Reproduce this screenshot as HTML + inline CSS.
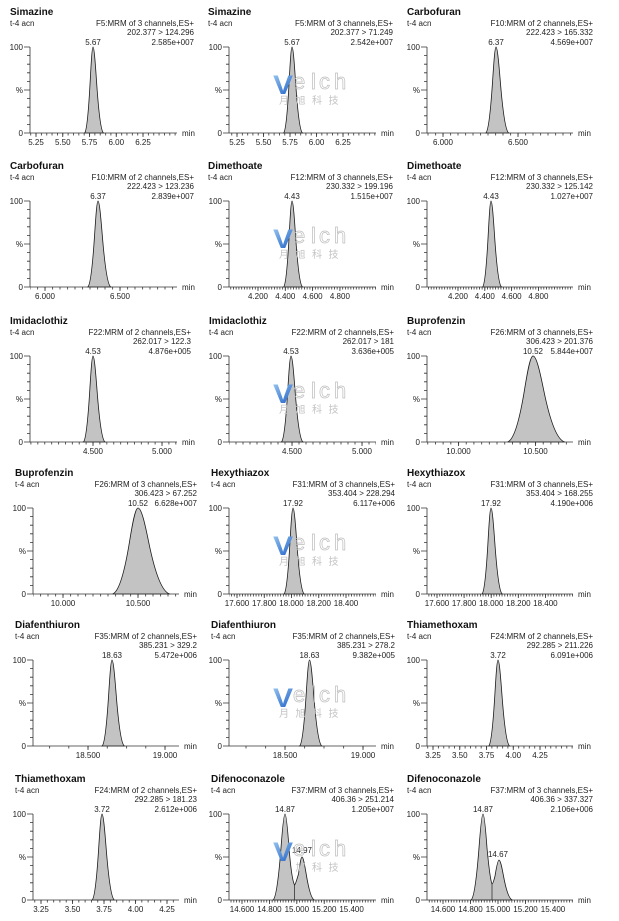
<!DOCTYPE html>
<html><head><meta charset="utf-8">
<style>
html,body{margin:0;padding:0;background:#fff;}
svg{display:block;}
.t{font-family:"Liberation Sans",sans-serif;font-weight:bold;font-size:10px;fill:#111;}
.s{font-family:"Liberation Sans",sans-serif;font-size:8px;fill:#222;}
.e{text-anchor:end;}
.m{text-anchor:middle;}
.ax{stroke:#333;stroke-width:0.8;fill:none;}
.pkf{fill:#c3c3c3;stroke:#1a1a1a;stroke-width:0.8;}
.wv{font-family:"Liberation Sans",sans-serif;font-weight:bold;font-size:27px;fill:url(#wg);}
.we{font-family:"Liberation Sans",sans-serif;font-size:22px;fill:none;stroke:#bdbdbd;stroke-width:0.7;}
.wc{font-family:"Liberation Sans","Noto Sans CJK SC",sans-serif;font-size:10px;fill:#c4c4c4;letter-spacing:6.5px;}
</style></head>
<body>
<svg width="619" height="921" viewBox="0 0 619 921" xmlns="http://www.w3.org/2000/svg">
<defs>
<linearGradient id="wg" x1="0" y1="0" x2="0.6" y2="1">
<stop offset="0" stop-color="#a5d0f5"/><stop offset="1" stop-color="#2466c8"/>
</linearGradient>
<path id="pk" class="pkf" vector-effect="non-scaling-stroke" d="M-3,0 C-2.333,-1.7 -1.667,-17.4 -1,-52.2 C-0.667,-69.6 -0.333,-86 0,-86 C0.417,-86 0.833,-69.6 1.25,-52.2 C2.083,-17.4 2.917,-1.7 3.75,0 Z"/>
<g id="yax"><path class="ax" d="M0,0V-86 M-6,0H0 M-6,-43H0 M-6,-86H0 M-3,-8.6H0 M-3,-17.2H0 M-3,-25.8H0 M-3,-34.4H0 M-3,-51.6H0 M-3,-60.2H0 M-3,-68.8H0 M-3,-77.4H0"/></g>
<pattern id="p11" patternUnits="userSpaceOnUse" x="35.6" y="0" width="5.35" height="4"><rect width="0.8" height="4" fill="#333"/></pattern>
<pattern id="p12" patternUnits="userSpaceOnUse" x="236.6" y="0" width="5.3" height="4"><rect width="0.8" height="4" fill="#333"/></pattern>
<pattern id="p13" patternUnits="userSpaceOnUse" x="442.6" y="0" width="7.5" height="4"><rect width="0.8" height="4" fill="#333"/></pattern>
<pattern id="p21" patternUnits="userSpaceOnUse" x="44.6" y="0" width="7.5" height="4"><rect width="0.8" height="4" fill="#333"/></pattern>
<pattern id="p22" patternUnits="userSpaceOnUse" x="257.6" y="0" width="2.73" height="4"><rect width="0.8" height="4" fill="#333"/></pattern>
<pattern id="p23" patternUnits="userSpaceOnUse" x="457.6" y="0" width="2.68" height="4"><rect width="0.8" height="4" fill="#333"/></pattern>
<pattern id="p31" patternUnits="userSpaceOnUse" x="92.6" y="0" width="6.9" height="4"><rect width="0.8" height="4" fill="#333"/></pattern>
<pattern id="p32" patternUnits="userSpaceOnUse" x="291.6" y="0" width="7" height="4"><rect width="0.8" height="4" fill="#333"/></pattern>
<pattern id="p33" patternUnits="userSpaceOnUse" x="458.1" y="0" width="7.7" height="4"><rect width="0.8" height="4" fill="#333"/></pattern>
<pattern id="p41" patternUnits="userSpaceOnUse" x="62.6" y="0" width="7.5" height="4"><rect width="0.8" height="4" fill="#333"/></pattern>
<pattern id="p42" patternUnits="userSpaceOnUse" x="236.6" y="0" width="2.725" height="4"><rect width="0.8" height="4" fill="#333"/></pattern>
<pattern id="p43" patternUnits="userSpaceOnUse" x="436.6" y="0" width="2.71" height="4"><rect width="0.8" height="4" fill="#333"/></pattern>
<pattern id="p51" patternUnits="userSpaceOnUse" x="87.6" y="0" width="19.25" height="4"><rect width="0.8" height="4" fill="#333"/></pattern>
<pattern id="p52" patternUnits="userSpaceOnUse" x="284.6" y="0" width="19.5" height="4"><rect width="0.8" height="4" fill="#333"/></pattern>
<pattern id="p53" patternUnits="userSpaceOnUse" x="432.6" y="0" width="5.35" height="4"><rect width="0.8" height="4" fill="#333"/></pattern>
<pattern id="p61" patternUnits="userSpaceOnUse" x="40.6" y="0" width="6.3" height="4"><rect width="0.8" height="4" fill="#333"/></pattern>
<pattern id="p62" patternUnits="userSpaceOnUse" x="241.6" y="0" width="2.74" height="4"><rect width="0.8" height="4" fill="#333"/></pattern>
<pattern id="p63" patternUnits="userSpaceOnUse" x="442.6" y="0" width="2.75" height="4"><rect width="0.8" height="4" fill="#333"/></pattern>
</defs>
<rect width="619" height="921" fill="#fff"/>

<!-- ================= ROW 1 (B=133) ================= -->
<!-- R1C1 -->
<text class="t" x="10" y="15">Simazine</text>
<text class="s" x="10" y="26">t-4 acn</text>
<text class="s e" x="194" y="26">F5:MRM of 3 channels,ES+</text>
<text class="s e" x="194" y="35">202.377 &gt; 124.296</text>
<text class="s e" x="194" y="45">2.585e+007</text>
<text class="s m" x="93" y="45">5.67</text>
<text class="s e" x="23" y="50">100</text><text class="s e" x="23" y="93">%</text><text class="s e" x="23" y="136">0</text>
<use href="#yax" x="30" y="133"/>
<use href="#pk" transform="translate(93,133) scale(2.8,1)"/>
<path class="ax" d="M30,133H177"/>
<rect x="30" y="133" width="147" height="2.5" fill="url(#p11)"/>
<path class="ax" d="M36,133v4M62.75,133v4M89.5,133v4M116.25,133v4M143,133v4"/>
<text class="s m" x="36" y="145">5.25</text><text class="s m" x="62.75" y="145">5.50</text><text class="s m" x="89.5" y="145">5.75</text><text class="s m" x="116.25" y="145">6.00</text><text class="s m" x="143" y="145">6.25</text>
<text class="s" x="182" y="136">min</text>

<!-- R1C2 -->
<text class="t" x="208" y="15">Simazine</text>
<text class="s" x="208" y="26">t-4 acn</text>
<text class="s e" x="393" y="26">F5:MRM of 3 channels,ES+</text>
<text class="s e" x="393" y="35">202.377 &gt; 71.249</text>
<text class="s e" x="393" y="45">2.542e+007</text>
<text class="s m" x="292" y="45">5.67</text>
<text class="s e" x="222" y="50">100</text><text class="s e" x="222" y="93">%</text><text class="s e" x="222" y="136">0</text>
<use href="#yax" x="229" y="133"/>
<use href="#pk" transform="translate(292,133) scale(2.8,1)"/>
<path class="ax" d="M229,133H376"/>
<rect x="229" y="133" width="147" height="2.5" fill="url(#p12)"/>
<path class="ax" d="M237,133v4M263.5,133v4M290,133v4M316.5,133v4M343,133v4"/>
<text class="s m" x="237" y="145">5.25</text><text class="s m" x="263.5" y="145">5.50</text><text class="s m" x="290" y="145">5.75</text><text class="s m" x="316.5" y="145">6.00</text><text class="s m" x="343" y="145">6.25</text>
<text class="s" x="381" y="136">min</text>
<text class="wv" x="273" y="94" textLength="20" lengthAdjust="spacingAndGlyphs">V</text>
<text class="we" y="89"><tspan x="293">e</tspan><tspan x="311">l</tspan><tspan x="319">c</tspan><tspan x="334">h</tspan></text>
<text class="wc" x="279" y="104">月旭科技</text>

<!-- R1C3 -->
<text class="t" x="407" y="15">Carbofuran</text>
<text class="s" x="407" y="26">t-4 acn</text>
<text class="s e" x="593" y="26">F10:MRM of 2 channels,ES+</text>
<text class="s e" x="593" y="35">222.423 &gt; 165.332</text>
<text class="s e" x="593" y="45">4.569e+007</text>
<text class="s m" x="496" y="45">6.37</text>
<text class="s e" x="420" y="50">100</text><text class="s e" x="420" y="93">%</text><text class="s e" x="420" y="136">0</text>
<use href="#yax" x="427" y="133"/>
<use href="#pk" transform="translate(496,133) scale(3.4,1)"/>
<path class="ax" d="M427,133H573"/>
<rect x="427" y="133" width="146" height="2.5" fill="url(#p13)"/>
<path class="ax" d="M443,133v4M518,133v4"/>
<text class="s m" x="443" y="145">6.000</text><text class="s m" x="518" y="145">6.500</text>
<text class="s" x="578" y="136">min</text>

<!-- ================= ROW 2 (B=287) ================= -->
<!-- R2C1 -->
<text class="t" x="10" y="169">Carbofuran</text>
<text class="s" x="10" y="180">t-4 acn</text>
<text class="s e" x="194" y="180">F10:MRM of 2 channels,ES+</text>
<text class="s e" x="194" y="189">222.423 &gt; 123.236</text>
<text class="s e" x="194" y="199">2.839e+007</text>
<text class="s m" x="98" y="199">6.37</text>
<text class="s e" x="23" y="204">100</text><text class="s e" x="23" y="247">%</text><text class="s e" x="23" y="290">0</text>
<use href="#yax" x="30" y="287"/>
<use href="#pk" transform="translate(98,287) scale(3.4,1)"/>
<path class="ax" d="M30,287H177"/>
<rect x="30" y="287" width="147" height="2.5" fill="url(#p21)"/>
<path class="ax" d="M45,287v4M120,287v4"/>
<text class="s m" x="45" y="299">6.000</text><text class="s m" x="120" y="299">6.500</text>
<text class="s" x="182" y="290">min</text>

<!-- R2C2 -->
<text class="t" x="208" y="169">Dimethoate</text>
<text class="s" x="208" y="180">t-4 acn</text>
<text class="s e" x="393" y="180">F12:MRM of 3 channels,ES+</text>
<text class="s e" x="393" y="189">230.332 &gt; 199.196</text>
<text class="s e" x="393" y="199">1.515e+007</text>
<text class="s m" x="292" y="199">4.43</text>
<text class="s e" x="222" y="204">100</text><text class="s e" x="222" y="247">%</text><text class="s e" x="222" y="290">0</text>
<use href="#yax" x="229" y="287"/>
<use href="#pk" transform="translate(292,287) scale(2.8,1)"/>
<path class="ax" d="M229,287H376"/>
<rect x="229" y="287" width="147" height="2.5" fill="url(#p22)"/>
<path class="ax" d="M258,287v4M285.3,287v4M312.6,287v4M339.9,287v4"/>
<text class="s m" x="258" y="299">4.200</text><text class="s m" x="285.3" y="299">4.400</text><text class="s m" x="312.6" y="299">4.600</text><text class="s m" x="339.9" y="299">4.800</text>
<text class="s" x="381" y="290">min</text>
<text class="wv" x="273" y="248" textLength="20" lengthAdjust="spacingAndGlyphs">V</text>
<text class="we" y="243"><tspan x="293">e</tspan><tspan x="311">l</tspan><tspan x="319">c</tspan><tspan x="334">h</tspan></text>
<text class="wc" x="279" y="258">月旭科技</text>

<!-- R2C3 -->
<text class="t" x="407" y="169">Dimethoate</text>
<text class="s" x="407" y="180">t-4 acn</text>
<text class="s e" x="593" y="180">F12:MRM of 3 channels,ES+</text>
<text class="s e" x="593" y="189">230.332 &gt; 125.142</text>
<text class="s e" x="593" y="199">1.027e+007</text>
<text class="s m" x="491" y="199">4.43</text>
<text class="s e" x="420" y="204">100</text><text class="s e" x="420" y="247">%</text><text class="s e" x="420" y="290">0</text>
<use href="#yax" x="427" y="287"/>
<use href="#pk" transform="translate(491,287) scale(2.8,1)"/>
<path class="ax" d="M427,287H573"/>
<rect x="427" y="287" width="146" height="2.5" fill="url(#p23)"/>
<path class="ax" d="M458,287v4M484.8,287v4M511.6,287v4M538.4,287v4"/>
<text class="s m" x="458" y="299">4.200</text><text class="s m" x="484.8" y="299">4.400</text><text class="s m" x="511.6" y="299">4.600</text><text class="s m" x="538.4" y="299">4.800</text>
<text class="s" x="578" y="290">min</text>

<!-- ================= ROW 3 (B=442) ================= -->
<!-- R3C1 -->
<text class="t" x="10" y="324">Imidaclothiz</text>
<text class="s" x="10" y="335">t-4 acn</text>
<text class="s e" x="191" y="335">F22:MRM of 2 channels,ES+</text>
<text class="s e" x="191" y="344">262.017 &gt; 122.3</text>
<text class="s e" x="191" y="354">4.876e+005</text>
<text class="s m" x="93" y="354">4.53</text>
<text class="s e" x="23" y="359">100</text><text class="s e" x="23" y="402">%</text><text class="s e" x="23" y="445">0</text>
<use href="#yax" x="30" y="442"/>
<use href="#pk" transform="translate(93,442) scale(3.2,1)"/>
<path class="ax" d="M30,442H177"/>
<rect x="30" y="442" width="147" height="2.5" fill="url(#p31)"/>
<path class="ax" d="M93,442v4M162,442v4"/>
<text class="s m" x="93" y="454">4.500</text><text class="s m" x="162" y="454">5.000</text>
<text class="s" x="182" y="445">min</text>

<!-- R3C2 -->
<text class="t" x="209" y="324">Imidaclothiz</text>
<text class="s" x="209" y="335">t-4 acn</text>
<text class="s e" x="394" y="335">F22:MRM of 2 channels,ES+</text>
<text class="s e" x="394" y="344">262.017 &gt; 181</text>
<text class="s e" x="394" y="354">3.636e+005</text>
<text class="s m" x="291" y="354">4.53</text>
<text class="s e" x="222" y="359">100</text><text class="s e" x="222" y="402">%</text><text class="s e" x="222" y="445">0</text>
<use href="#yax" x="229" y="442"/>
<use href="#pk" transform="translate(291,442) scale(3.2,1)"/>
<path class="ax" d="M229,442H376"/>
<rect x="229" y="442" width="147" height="2.5" fill="url(#p32)"/>
<path class="ax" d="M292,442v4M362,442v4"/>
<text class="s m" x="292" y="454">4.500</text><text class="s m" x="362" y="454">5.000</text>
<text class="s" x="381" y="445">min</text>
<text class="wv" x="273" y="403" textLength="20" lengthAdjust="spacingAndGlyphs">V</text>
<text class="we" y="398"><tspan x="293">e</tspan><tspan x="311">l</tspan><tspan x="319">c</tspan><tspan x="334">h</tspan></text>
<text class="wc" x="279" y="413">月旭科技</text>

<!-- R3C3 -->
<text class="t" x="407" y="324">Buprofenzin</text>
<text class="s" x="407" y="335">t-4 acn</text>
<text class="s e" x="593" y="335">F26:MRM of 3 channels,ES+</text>
<text class="s e" x="593" y="344">306.423 &gt; 201.376</text>
<text class="s e" x="593" y="354">5.844e+007</text>
<text class="s m" x="533" y="354">10.52</text>
<text class="s e" x="420" y="359">100</text><text class="s e" x="420" y="402">%</text><text class="s e" x="420" y="445">0</text>
<use href="#yax" x="427" y="442"/>
<use href="#pk" transform="translate(533,442) scale(8.5,1)"/>
<path class="ax" d="M427,442H573"/>
<rect x="427" y="442" width="146" height="2.5" fill="url(#p33)"/>
<path class="ax" d="M458.5,442v4M535.5,442v4"/>
<text class="s m" x="458.5" y="454">10.000</text><text class="s m" x="535.5" y="454">10.500</text>
<text class="s" x="578" y="445">min</text>

<!-- ================= ROW 4 (B=594) ================= -->
<!-- R4C1 -->
<text class="t" x="15" y="476">Buprofenzin</text>
<text class="s" x="15" y="487">t-4 acn</text>
<text class="s e" x="197" y="487">F26:MRM of 3 channels,ES+</text>
<text class="s e" x="197" y="496">306.423 &gt; 67.252</text>
<text class="s e" x="197" y="506">6.628e+007</text>
<text class="s m" x="138" y="506">10.52</text>
<text class="s e" x="26" y="511">100</text><text class="s e" x="26" y="554">%</text><text class="s e" x="26" y="597">0</text>
<use href="#yax" x="33" y="594"/>
<use href="#pk" transform="translate(138,594) scale(8.5,1)"/>
<path class="ax" d="M33,594H179"/>
<rect x="33" y="594" width="146" height="2.5" fill="url(#p41)"/>
<path class="ax" d="M63,594v4M138,594v4"/>
<text class="s m" x="63" y="606">10.000</text><text class="s m" x="138" y="606">10.500</text>
<text class="s" x="184" y="597">min</text>

<!-- R4C2 -->
<text class="t" x="211" y="476">Hexythiazox</text>
<text class="s" x="211" y="487">t-4 acn</text>
<text class="s e" x="395" y="487">F31:MRM of 3 channels,ES+</text>
<text class="s e" x="395" y="496">353.404 &gt; 228.294</text>
<text class="s e" x="395" y="506">6.117e+006</text>
<text class="s m" x="293" y="506">17.92</text>
<text class="s e" x="222" y="511">100</text><text class="s e" x="222" y="554">%</text><text class="s e" x="222" y="597">0</text>
<use href="#yax" x="229" y="594"/>
<use href="#pk" transform="translate(293,594) scale(3.0,1)"/>
<path class="ax" d="M229,594H376"/>
<rect x="229" y="594" width="147" height="2.5" fill="url(#p42)"/>
<path class="ax" d="M237,594v4M264.25,594v4M291.5,594v4M318.75,594v4M346,594v4"/>
<text class="s m" x="237" y="606">17.600</text><text class="s m" x="264.25" y="606">17.800</text><text class="s m" x="291.5" y="606">18.000</text><text class="s m" x="318.75" y="606">18.200</text><text class="s m" x="346" y="606">18.400</text>
<text class="s" x="381" y="597">min</text>
<text class="wv" x="273" y="555" textLength="20" lengthAdjust="spacingAndGlyphs">V</text>
<text class="we" y="550"><tspan x="293">e</tspan><tspan x="311">l</tspan><tspan x="319">c</tspan><tspan x="334">h</tspan></text>
<text class="wc" x="279" y="565">月旭科技</text>

<!-- R4C3 -->
<text class="t" x="407" y="476">Hexythiazox</text>
<text class="s" x="407" y="487">t-4 acn</text>
<text class="s e" x="593" y="487">F31:MRM of 3 channels,ES+</text>
<text class="s e" x="593" y="496">353.404 &gt; 168.255</text>
<text class="s e" x="593" y="506">4.190e+006</text>
<text class="s m" x="491" y="506">17.92</text>
<text class="s e" x="420" y="511">100</text><text class="s e" x="420" y="554">%</text><text class="s e" x="420" y="597">0</text>
<use href="#yax" x="427" y="594"/>
<use href="#pk" transform="translate(491,594) scale(3.0,1)"/>
<path class="ax" d="M427,594H573"/>
<rect x="427" y="594" width="146" height="2.5" fill="url(#p43)"/>
<path class="ax" d="M437,594v4M464.1,594v4M491.2,594v4M518.3,594v4M545.4,594v4"/>
<text class="s m" x="437" y="606">17.600</text><text class="s m" x="464.1" y="606">17.800</text><text class="s m" x="491.2" y="606">18.000</text><text class="s m" x="518.3" y="606">18.200</text><text class="s m" x="545.4" y="606">18.400</text>
<text class="s" x="578" y="597">min</text>

<!-- ================= ROW 5 (B=746) ================= -->
<!-- R5C1 -->
<text class="t" x="15" y="628">Diafenthiuron</text>
<text class="s" x="15" y="639">t-4 acn</text>
<text class="s e" x="197" y="639">F35:MRM of 2 channels,ES+</text>
<text class="s e" x="197" y="648">385.231 &gt; 329.2</text>
<text class="s e" x="197" y="658">5.472e+006</text>
<text class="s m" x="112" y="658">18.63</text>
<text class="s e" x="26" y="663">100</text><text class="s e" x="26" y="706">%</text><text class="s e" x="26" y="749">0</text>
<use href="#yax" x="33" y="746"/>
<use href="#pk" transform="translate(112,746) scale(3.3,1)"/>
<path class="ax" d="M33,746H179"/>
<rect x="33" y="746" width="146" height="2.5" fill="url(#p51)"/>
<path class="ax" d="M88,746v4M165,746v4"/>
<text class="s m" x="88" y="758">18.500</text><text class="s m" x="165" y="758">19.000</text>
<text class="s" x="184" y="749">min</text>

<!-- R5C2 -->
<text class="t" x="211" y="628">Diafenthiuron</text>
<text class="s" x="211" y="639">t-4 acn</text>
<text class="s e" x="395" y="639">F35:MRM of 2 channels,ES+</text>
<text class="s e" x="395" y="648">385.231 &gt; 278.2</text>
<text class="s e" x="395" y="658">9.382e+005</text>
<text class="s m" x="309.5" y="658">18.63</text>
<text class="s e" x="222" y="663">100</text><text class="s e" x="222" y="706">%</text><text class="s e" x="222" y="749">0</text>
<use href="#yax" x="229" y="746"/>
<use href="#pk" transform="translate(309.5,746) scale(3.3,1)"/>
<path class="ax" d="M229,746H376"/>
<rect x="229" y="746" width="147" height="2.5" fill="url(#p52)"/>
<path class="ax" d="M285,746v4M363,746v4"/>
<text class="s m" x="285" y="758">18.500</text><text class="s m" x="363" y="758">19.000</text>
<text class="s" x="381" y="749">min</text>
<text class="wv" x="273" y="707" textLength="20" lengthAdjust="spacingAndGlyphs">V</text>
<text class="we" y="702"><tspan x="293">e</tspan><tspan x="311">l</tspan><tspan x="319">c</tspan><tspan x="334">h</tspan></text>
<text class="wc" x="279" y="717">月旭科技</text>

<!-- R5C3 -->
<text class="t" x="407" y="628">Thiamethoxam</text>
<text class="s" x="407" y="639">t-4 acn</text>
<text class="s e" x="593" y="639">F24:MRM of 2 channels,ES+</text>
<text class="s e" x="593" y="648">292.285 &gt; 211.226</text>
<text class="s e" x="593" y="658">6.091e+006</text>
<text class="s m" x="498" y="658">3.72</text>
<text class="s e" x="420" y="663">100</text><text class="s e" x="420" y="706">%</text><text class="s e" x="420" y="749">0</text>
<use href="#yax" x="427" y="746"/>
<use href="#pk" transform="translate(498,746) scale(3.1,1)"/>
<path class="ax" d="M427,746H573"/>
<rect x="427" y="746" width="146" height="2.5" fill="url(#p53)"/>
<path class="ax" d="M433,746v4M459.75,746v4M486.5,746v4M513.25,746v4M540,746v4"/>
<text class="s m" x="433" y="758">3.25</text><text class="s m" x="459.75" y="758">3.50</text><text class="s m" x="486.5" y="758">3.75</text><text class="s m" x="513.25" y="758">4.00</text><text class="s m" x="540" y="758">4.25</text>
<text class="s" x="578" y="749">min</text>

<!-- ================= ROW 6 (B=900) ================= -->
<!-- R6C1 -->
<text class="t" x="15" y="782">Thiamethoxam</text>
<text class="s" x="15" y="793">t-4 acn</text>
<text class="s e" x="197" y="793">F24:MRM of 2 channels,ES+</text>
<text class="s e" x="197" y="802">292.285 &gt; 181.23</text>
<text class="s e" x="197" y="812">2.612e+006</text>
<text class="s m" x="102" y="812">3.72</text>
<text class="s e" x="26" y="817">100</text><text class="s e" x="26" y="860">%</text><text class="s e" x="26" y="903">0</text>
<use href="#yax" x="33" y="900"/>
<use href="#pk" transform="translate(102,900) scale(3.3,1)"/>
<path class="ax" d="M33,900H179"/>
<rect x="33" y="900" width="146" height="2.5" fill="url(#p61)"/>
<path class="ax" d="M41,900v4M72.5,900v4M104,900v4M135.5,900v4M167,900v4"/>
<text class="s m" x="41" y="912">3.25</text><text class="s m" x="72.5" y="912">3.50</text><text class="s m" x="104" y="912">3.75</text><text class="s m" x="135.5" y="912">4.00</text><text class="s m" x="167" y="912">4.25</text>
<text class="s" x="184" y="903">min</text>

<!-- R6C2 -->
<text class="t" x="211" y="782">Difenoconazole</text>
<text class="s" x="211" y="793">t-4 acn</text>
<text class="s e" x="394" y="793">F37:MRM of 3 channels,ES+</text>
<text class="s e" x="394" y="802">406.36 &gt; 251.214</text>
<text class="s e" x="394" y="812">1.205e+007</text>
<text class="s m" x="285" y="812">14.87</text>
<text class="s m" x="302" y="853">14.97</text>
<text class="s e" x="222" y="817">100</text><text class="s e" x="222" y="860">%</text><text class="s e" x="222" y="903">0</text>
<use href="#yax" x="229" y="900"/>
<path class="pkf" d="M273,900 C275.7,898.3 278.3,882.6 281,847.8 C282.3,830.4 283.7,814 285,814 C286.3,814 287.7,830 289,848 C290.5,866 292.5,881 294.5,885 C295.5,884.5 297,879 298.5,874 C299.7,866 300.8,857 302,857 C303.4,857 304.8,866 306.2,874 C309,891 311.8,899.5 314.6,900 Z"/>
<path class="ax" d="M294.5,885V900"/>
<path class="ax" d="M229,900H376"/>
<rect x="229" y="900" width="147" height="2.5" fill="url(#p62)"/>
<path class="ax" d="M242,900v4M269.4,900v4M296.8,900v4M324.2,900v4M351.6,900v4"/>
<text class="s m" x="242" y="912">14.600</text><text class="s m" x="269.4" y="912">14.800</text><text class="s m" x="296.8" y="912">15.000</text><text class="s m" x="324.2" y="912">15.200</text><text class="s m" x="351.6" y="912">15.400</text>
<text class="s" x="381" y="903">min</text>
<text class="wv" x="273" y="861" textLength="20" lengthAdjust="spacingAndGlyphs">V</text>
<text class="we" y="856"><tspan x="293">e</tspan><tspan x="311">l</tspan><tspan x="319">c</tspan><tspan x="334">h</tspan></text>
<text class="wc" x="279" y="871">月旭科技</text>

<!-- R6C3 -->
<text class="t" x="407" y="782">Difenoconazole</text>
<text class="s" x="407" y="793">t-4 acn</text>
<text class="s e" x="593" y="793">F37:MRM of 3 channels,ES+</text>
<text class="s e" x="593" y="802">406.36 &gt; 337.327</text>
<text class="s e" x="593" y="812">2.106e+006</text>
<text class="s m" x="483" y="812">14.87</text>
<text class="s m" x="498" y="857">14.67</text>
<text class="s e" x="420" y="817">100</text><text class="s e" x="420" y="860">%</text><text class="s e" x="420" y="903">0</text>
<use href="#yax" x="427" y="900"/>
<path class="pkf" d="M471,900 C473.7,898.3 476.3,882.6 479,847.8 C480.3,830.4 481.7,814 483,814 C484.3,814 485.7,830 487,848 C488.7,866 490.3,880 492,884 C493,884 494,880 495,876 C496.3,868 497.7,860 499,860 C500.5,860 502,868 503.5,876 C506.5,892 509.5,899.5 512.5,900 Z"/>
<path class="ax" d="M492,884V900"/>
<path class="ax" d="M427,900H573"/>
<rect x="427" y="900" width="146" height="2.5" fill="url(#p63)"/>
<path class="ax" d="M443,900v4M470.5,900v4M498,900v4M525.5,900v4M553,900v4"/>
<text class="s m" x="443" y="912">14.600</text><text class="s m" x="470.5" y="912">14.800</text><text class="s m" x="498" y="912">15.000</text><text class="s m" x="525.5" y="912">15.200</text><text class="s m" x="553" y="912">15.400</text>
<text class="s" x="578" y="903">min</text>
</svg>
</body></html>
